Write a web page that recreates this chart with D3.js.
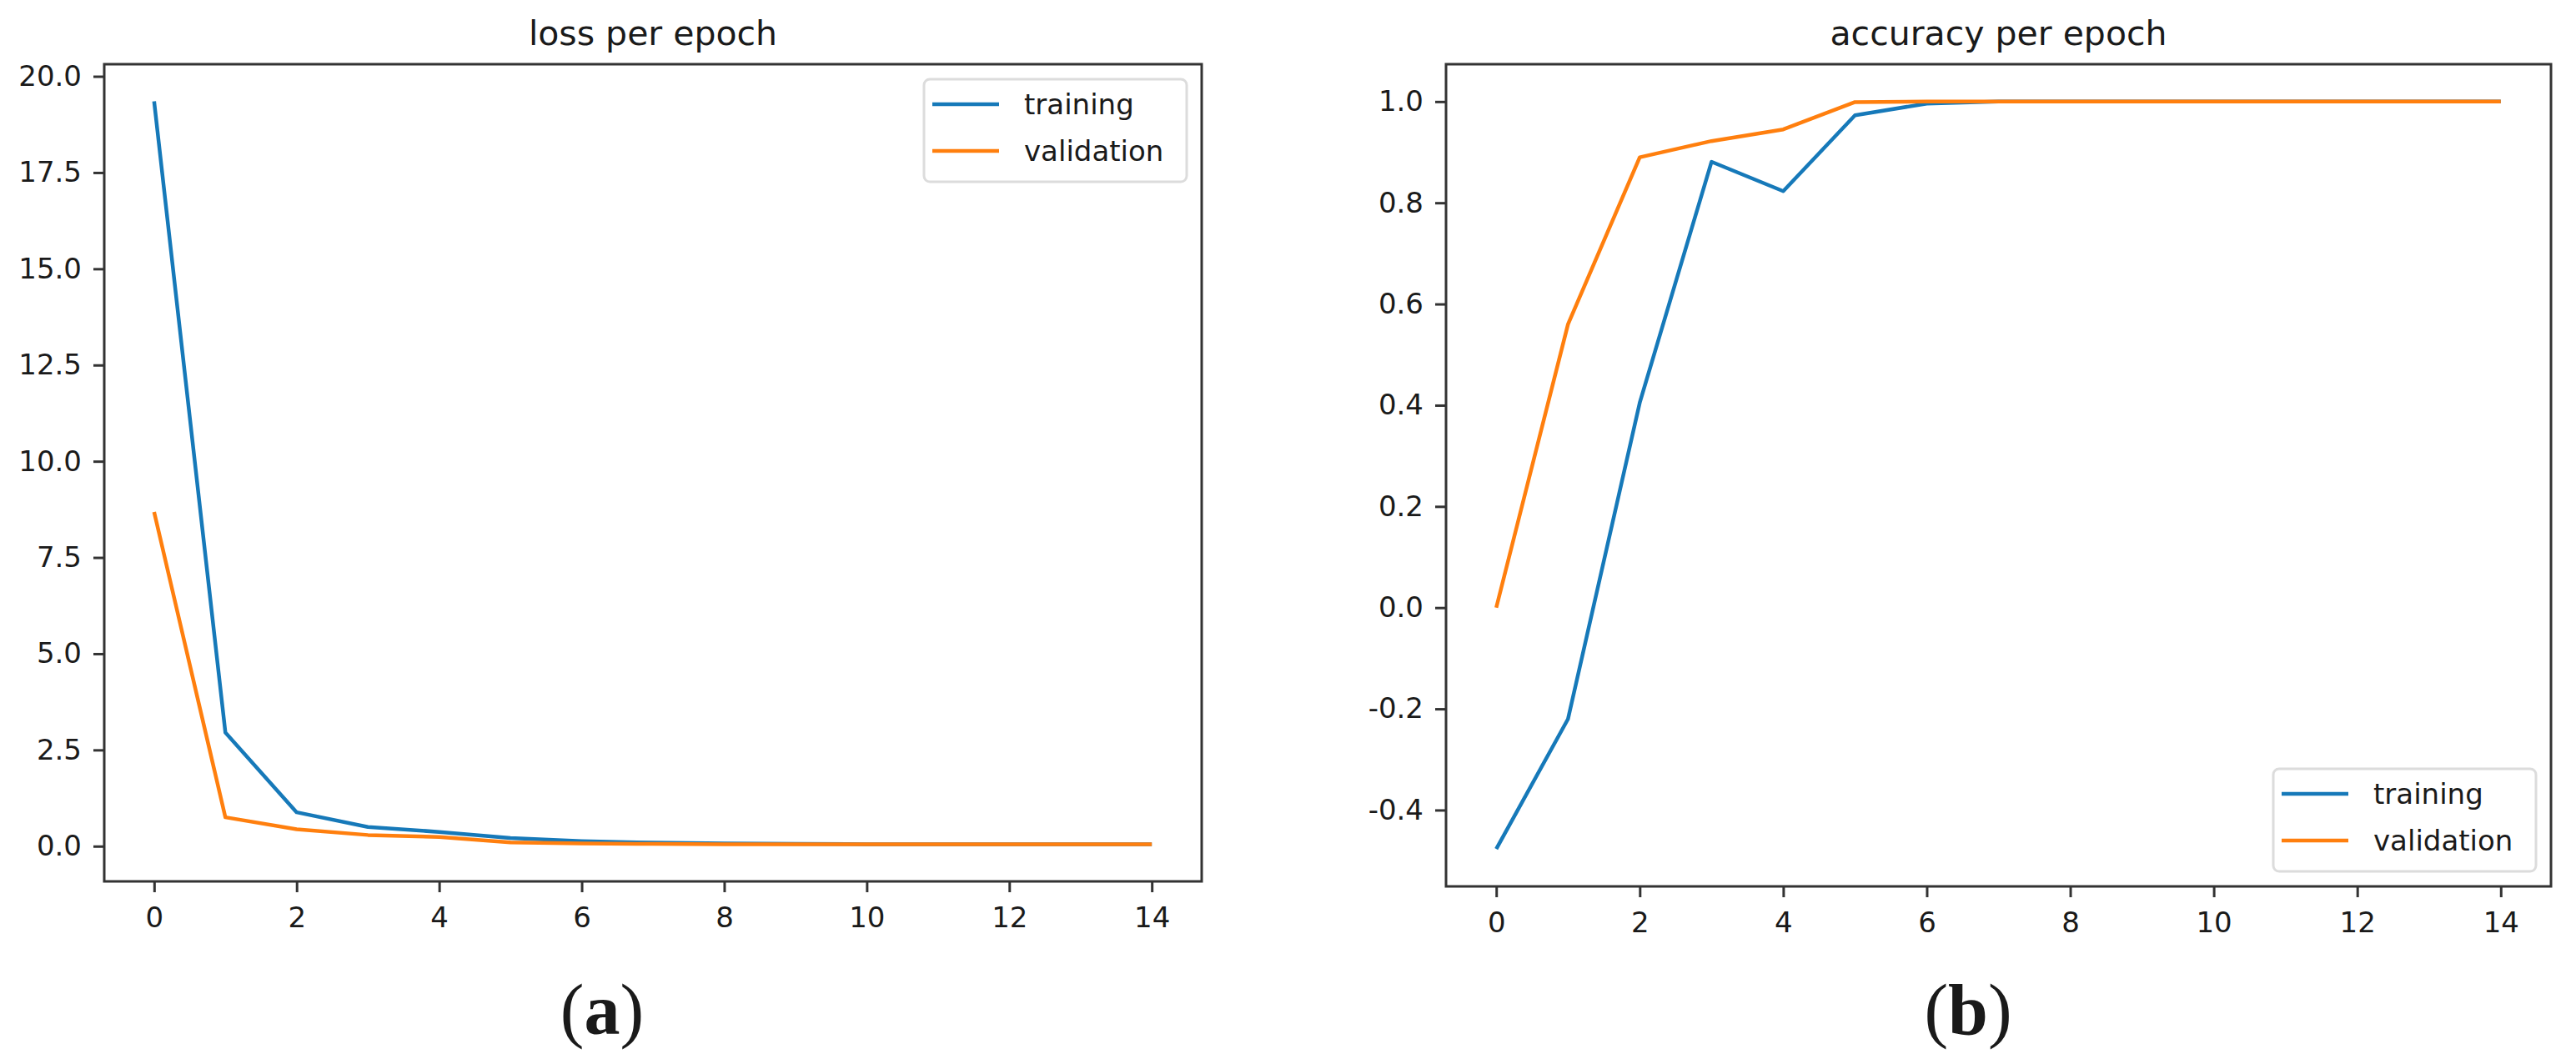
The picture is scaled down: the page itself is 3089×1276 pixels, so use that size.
<!DOCTYPE html>
<html>
<head>
<title>loss / accuracy per epoch</title>
<script src="https://cdn.jsdelivr.net/npm/d3@7"></script>
<style>
  body { margin: 0; background: #fff; }
  svg text { font-family: "DejaVu Sans", sans-serif; fill: #1a1a1a; }
  .axis path, .axis line { stroke: #333; stroke-width: 3; }
  .axis text { font-size: 34px; }
</style>
</head>
<body>
<svg id="fig" width="3089" height="1276"></svg>
<script>
// data
var EPOCHS = [0, 1, 2, 3, 4, 5, 6, 7, 8, 9, 10, 11, 12, 13, 14];
var LOSS_TRAIN = [19.35, 2.95, 0.88, 0.50, 0.37, 0.21, 0.13, 0.09, 0.07, 0.06, 0.05, 0.05, 0.05, 0.05, 0.05];
var LOSS_VAL   = [8.68, 0.75, 0.44, 0.29, 0.24, 0.10, 0.07, 0.06, 0.05, 0.05, 0.05, 0.05, 0.05, 0.05, 0.05];
var ACC_TRAIN  = [-0.477, -0.22, 0.405, 0.881, 0.823, 0.973, 0.996, 1.0, 1.0, 1.0, 1.0, 1.0, 1.0, 1.0, 1.0];
var ACC_VAL    = [0.0, 0.56, 0.89, 0.922, 0.945, 0.999, 1.0, 1.0, 1.0, 1.0, 1.0, 1.0, 1.0, 1.0, 1.0];
var LOSS_TICKS = [0, 2.5, 5, 7.5, 10, 12.5, 15, 17.5, 20];
var ACC_TICKS  = [-0.4, -0.2, 0, 0.2, 0.4, 0.6, 0.8, 1.0];
var X_TICKS    = [0, 2, 4, 6, 8, 10, 12, 14];
var SERIES_NAMES = ['training', 'validation'];
var COLORS = ['#1679b9', '#ff7f0e'];

var svg = d3.select('#fig');

// matplotlib style autoscale: 5% margin each side
var padded = function (lo, hi) {
  var m = (hi - lo) * 0.05;
  return [lo - m, hi + m];
};

var drawPanel = function (opt) {
  var g = svg.append('g');
  var x = d3.scaleLinear()
    .domain(padded(d3.min(EPOCHS), d3.max(EPOCHS)))
    .range([opt.left, opt.right]);
  var all = opt.series[0].concat(opt.series[1]);
  var y = d3.scaleLinear()
    .domain(padded(d3.min(all), d3.max(all)))
    .range([opt.bottom, opt.top]);

  g.append('g').attr('class', 'axis')
    .attr('transform', 'translate(0,' + opt.bottom + ')')
    .call(d3.axisBottom(x).tickValues(X_TICKS).tickFormat(d3.format('d'))
      .tickSize(13).tickPadding(18).tickSizeOuter(0))
    .select('.domain').remove();

  g.append('g').attr('class', 'axis')
    .attr('transform', 'translate(' + opt.left + ',0)')
    .call(d3.axisLeft(y).tickValues(opt.yTicks)
      .tickFormat(function (d) { return d.toFixed(1); })
      .tickSize(13).tickPadding(14).tickSizeOuter(0))
    .select('.domain').remove();

  var line = d3.line()
    .x(function (d, i) { return x(EPOCHS[i]); })
    .y(function (d) { return y(d); });

  opt.series.forEach(function (s, i) {
    g.append('path')
      .datum(s)
      .attr('d', line)
      .attr('fill', 'none')
      .attr('stroke', COLORS[i])
      .attr('stroke-width', 4.5)
      .attr('stroke-linejoin', 'round');
  });

  // frame
  g.append('rect')
    .attr('x', opt.left).attr('y', opt.top)
    .attr('width', opt.right - opt.left)
    .attr('height', opt.bottom - opt.top)
    .attr('fill', 'none')
    .attr('stroke', '#333')
    .attr('stroke-width', 3);

  g.append('text')
    .attr('x', (opt.left + opt.right) / 2)
    .attr('y', 54)
    .attr('text-anchor', 'middle')
    .style('font-size', '41px')
    .text(opt.title);

  // legend
  var lw = 315, lh = 123, pad = 18;
  var lx = opt.right - pad - lw;
  var ly = opt.legendLoc === 'upper' ? opt.top + pad : opt.bottom - pad - lh;
  var leg = g.append('g').attr('transform', 'translate(' + lx + ',' + ly + ')');
  leg.append('rect')
    .attr('width', lw).attr('height', lh)
    .attr('rx', 7)
    .attr('fill', '#fff').attr('fill-opacity', 0.8)
    .attr('stroke', '#dcdcdc').attr('stroke-width', 3);
  SERIES_NAMES.forEach(function (name, i) {
    var ry = 30 + i * 56;
    leg.append('line')
      .attr('x1', 10).attr('x2', 90)
      .attr('y1', ry).attr('y2', ry)
      .attr('stroke', COLORS[i]).attr('stroke-width', 4.5);
    leg.append('text')
      .attr('x', 120).attr('y', ry)
      .attr('dy', '0.35em')
      .style('font-size', '34px')
      .text(name);
  });

  svg.append('text')
    .attr('x', opt.tag[0]).attr('y', opt.tag[1])
    .attr('text-anchor', 'middle')
    .style('font-family', '"Liberation Serif", "Times New Roman", serif')
    .style('font-size', '86px')
    .html('(<tspan font-weight="bold">' + opt.tagLetter + '</tspan>)');
};

drawPanel({
  title: 'loss per epoch',
  series: [LOSS_TRAIN, LOSS_VAL],
  yTicks: LOSS_TICKS,
  left: 125, right: 1441, top: 77, bottom: 1057,
  legendLoc: 'upper',
  tag: [722, 1240], tagLetter: 'a'
});

drawPanel({
  title: 'accuracy per epoch',
  series: [ACC_TRAIN, ACC_VAL],
  yTicks: ACC_TICKS,
  left: 1734, right: 3059, top: 77, bottom: 1063,
  legendLoc: 'lower',
  tag: [2360, 1240], tagLetter: 'b'
});
</script>
</body>
</html>
